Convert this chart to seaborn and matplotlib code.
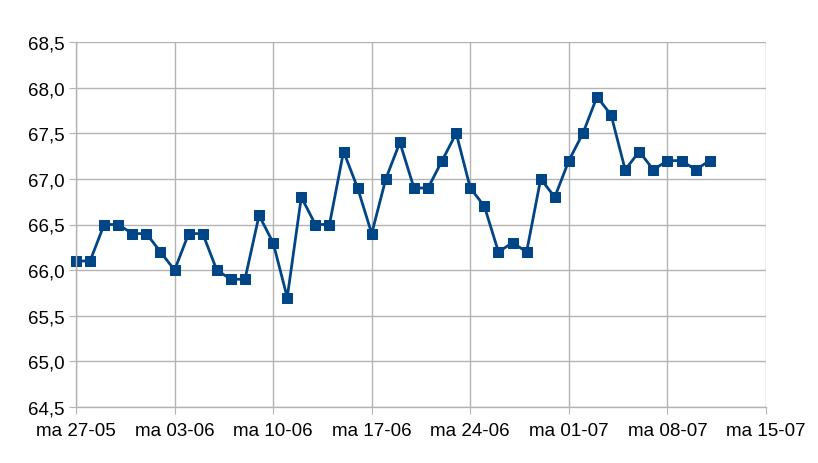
import matplotlib
matplotlib.use("Agg")
import matplotlib.pyplot as plt
import matplotlib.dates as mdates
import seaborn as sns
import pandas as pd
import numpy as np

start_date = "2019-05-27"
n_days = 46
values = [66.1, 66.1, 66.5, 66.5, 66.4, 66.4, 66.2, 66.0,
          66.4, 66.4, 66.0, 65.9, 65.9, 66.6, 66.3,
          65.7, 66.8, 66.5, 66.5, 67.3, 66.9, 66.4,
          67.0, 67.4, 66.9, 66.9, 67.2, 67.5, 66.9,
          66.7, 66.2, 66.3, 66.2, 67.0, 66.8, 67.2,
          67.5, 67.9, 67.7, 67.1, 67.3, 67.1, 67.2,
          67.2, 67.1, 67.2]
y_ticks = [64.5, 65.0, 65.5, 66.0, 66.5, 67.0, 67.5, 68.0, 68.5]
x_tick_dates = ["2019-05-27", "2019-06-03", "2019-06-10", "2019-06-17",
                "2019-06-24", "2019-07-01", "2019-07-08", "2019-07-15"]

dates = pd.date_range(start_date, periods=n_days, freq="D")
df = pd.DataFrame({"datum": dates, "waarde": values})

sns.set_style("white")
plt.rcParams["font.family"] = ["Liberation Sans", "DejaVu Sans"]

fig = plt.figure(figsize=(8.18, 4.64), dpi=100)
ax = fig.add_axes([76/818, 1-408/464, (766-76)/818, (408-43)/464])

color = "#004586"
sns.lineplot(data=df, x="datum", y="waarde", ax=ax, color=color, linewidth=2,
             marker="s", markersize=7, markeredgecolor=color, markerfacecolor=color)
for ln in ax.lines:
    ln.set_clip_on(False)

xt = pd.to_datetime(x_tick_dates)
ax.set_xlim(xt[0], xt[-1])
ax.set_ylim(y_ticks[0], y_ticks[-1])
ax.set_xticks(xt)
ax.set_xticklabels(["ma " + d.strftime("%d-%m") for d in xt])
ax.set_yticks(y_ticks)
ax.set_yticklabels([f"{v:.1f}".replace(".", ",") for v in y_ticks])

ax.grid(True, color="#b3b3b3", linewidth=1)
ax.set_axisbelow(True)
for s in ["top", "right"]:
    ax.spines[s].set_visible(False)
for s in ["left", "bottom"]:
    ax.spines[s].set_color("#b3b3b3")
    ax.spines[s].set_linewidth(1)
ax.tick_params(axis="both", which="both", length=5, color="#b3b3b3",
               labelsize=13.5, labelcolor="black", direction="out",
               left=True, bottom=True)
ax.tick_params(axis="y", pad=3)
ax.tick_params(axis="x", pad=6)
ax.set_xlabel("")
ax.set_ylabel("")

fig.savefig("out.png", dpi=100)
